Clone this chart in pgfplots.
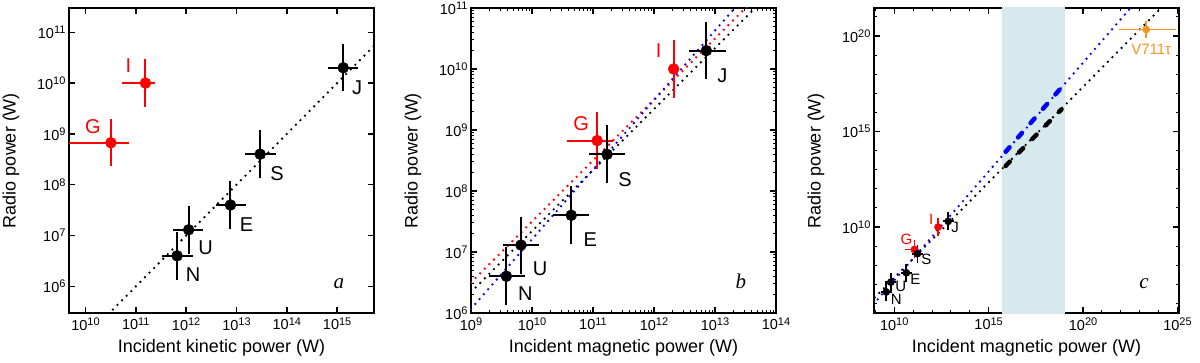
\documentclass[border=0pt]{standalone}
\usepackage{pgfplots}
\pgfplotsset{compat=1.18}
\usepackage{pgfplotstable}
\usepackage{fontspec}
\setmainfont{Liberation Sans}
\newfontfamily\timesf{Liberation Serif}

\definecolor{orng}{HTML}{F7931E}
\definecolor{band}{HTML}{D6E9EC}

% tick label 10^n set in the text font
\newcommand\ex[1]{{\fontsize{14.5}{16}\selectfont 10\raisebox{4.8pt}{\fontsize{11}{11}\selectfont #1}}}

% radio power vs incident kinetic / magnetic power
% columns: x, y, x error minus/plus, y error minus/plus (W)
\pgfplotstableread{
x       y      xm      xp      ym      yp
6.6e11  4e6    3.3e11  6.9e11  2.65e6  8e6
1.12e12 1.3e7  5.6e11  1.08e12 8.6e6   2.5e7
7.6e12  4e7    3.7e12  7.9e12  2.65e7  8e7
2.95e13 4e8    1.47e13 3.05e13 2.65e8  8e8
1.32e15 2e10   6.6e14  1.28e15 1.31e10 4e10
}\kinblack
\pgfplotstableread{
x       y      xm      xp      ym      yp
3.2e10  6.7e8  2.9e10  4.2e10  4.4e8   1.33e9
1.55e11 1e10   1.01e11 8.5e10  6.6e9   2e10
}\kinred
\pgfplotstableread{
x       y      xm      xp      ym      yp
3.8e9   4e6    1.8e9   4e9     2.65e6  8e6
6.6e9   1.3e7  3.3e9   6.4e9   8.6e6   2.5e7
4.4e10  4e7    2.2e10  4.3e10  2.65e7  8e7
1.7e11  4e8    8.5e10  1.7e11  2.65e8  8e8
7.2e12  2e10   3.5e12  7.8e12  1.31e10 4e10
}\magblack
\pgfplotstableread{
x       y      xm      xp      ym      yp
1.17e11 6.7e8  8e10    9.3e10  4.4e8   1.33e9
2.1e12  1e10   0       0       6.6e9   2e10
}\magred
\pgfplotstableread{
x       y      xm      xp      ym      yp
2.2e23  2.2e20 2.12e23 7.8e24  1.44e20 4.1e20
}\startab

\pgfplotsset{
  mypanel/.style={
    width=305pt, height=305pt, scale only axis,
    axis line style={line width=1.8pt},
    tick align=inside,
    major tick length=6pt, minor tick length=3pt,
    every major tick/.append style={black, line width=1.4pt},
    every minor tick/.append style={black, line width=1pt},
    xticklabel style={yshift=-1pt},
    label style={font=\fontsize{18}{20}\selectfont},
    ylabel style={at={(axis description cs:-0.19,0.5)}, anchor=center},
    xlabel style={at={(axis description cs:0.5,-0.115)}, anchor=center},
    ylabel={Radio power (W)},
  },
  pts/.style 2 args={only marks, mark=*, mark size=#1,
    error bars/x dir=both, error bars/y dir=both,
    error bars/x explicit, error bars/y explicit,
    error bars/error mark=none,
    error bars/error bar style={line width=#2, solid}},
  dotl/.style={line width=2.6pt, line cap=round, dash pattern=on 0pt off 6.5pt},
  tdash/.style={line width=4.5pt, line cap=round, dash pattern=on 6pt off 13pt},
}

\newcommand\plotpts[4]{% table, colour, mark size, error width
  \addplot[color=#2, mark options={fill=#2, draw=#2}, pts={#3}{#4}]
    table[x=x, y=y, x error minus=xm, x error plus=xp,
          y error minus=ym, y error plus=yp] {#1};
}

\begin{document}
\begin{tikzpicture}
\useasboundingbox (0,0) rectangle (1200pt,362pt);

% ---------- a ----------
\begin{loglogaxis}[mypanel, at={(69pt,49pt)}, anchor=south west,
  xmin=4.7e9, xmax=5.4e15, ymin=3e5, ymax=3e11,
  xminorticks=false, yminorticks=false,
  xtick={1e10,1e11,1e12,1e13,1e14,1e15},
  xticklabels={\ex{10},\ex{11},\ex{12},\ex{13},\ex{14},\ex{15}},
  ytick={1e6,1e7,1e8,1e9,1e10,1e11},
  yticklabels={\ex{6},\ex{7},\ex{8},\ex{9},\ex{10},\ex{11}},
  xlabel={Incident kinetic power (W)}]
\addplot[black, dotl] coordinates {(1e9,1e4) (1e17,1e12)};
\plotpts{\kinred}{red}{5.5pt}{2pt}
\plotpts{\kinblack}{black}{5.5pt}{2pt}
\begin{scope}[font=\fontsize{20}{22}\selectfont]
\node[red] at (axis cs:3.2e10,6.7e8) [xshift=-18pt, yshift=16pt] {G};
\node[red] at (axis cs:1.55e11,1e10) [xshift=-17pt, yshift=17pt] {I};
\node at (axis cs:6.6e11,4e6) [xshift=16pt, yshift=-19pt] {N};
\node at (axis cs:1.12e12,1.3e7) [xshift=17pt, yshift=-18pt] {U};
\node at (axis cs:7.6e12,4e7) [xshift=16pt, yshift=-20pt] {E};
\node at (axis cs:2.95e13,4e8) [xshift=17pt, yshift=-19pt] {S};
\node at (axis cs:1.32e15,2e10) [xshift=14pt, yshift=-20pt] {J};
\end{scope}
\node[anchor=base, font=\timesf\itshape\fontsize{21}{22}\selectfont]
  at (axis description cs:0.885,0.08) {a};
\end{loglogaxis}

% ---------- b ----------
\begin{loglogaxis}[mypanel, at={(471pt,49pt)}, anchor=south west,
  xmin=1e9, xmax=1e14, ymin=1e6, ymax=1e11,
  xtick={1e9,1e10,1e11,1e12,1e13,1e14},
  xticklabels={\ex{9},\ex{10},\ex{11},\ex{12},\ex{13},\ex{14}},
  ytick={1e6,1e7,1e8,1e9,1e10,1e11},
  yticklabels={\ex{6},\ex{7},\ex{8},\ex{9},\ex{10},\ex{11}},
  minor xtick={2e9,3e9,4e9,5e9,6e9,7e9,8e9,9e9,
    2e10,3e10,4e10,5e10,6e10,7e10,8e10,9e10,
    2e11,3e11,4e11,5e11,6e11,7e11,8e11,9e11,
    2e12,3e12,4e12,5e12,6e12,7e12,8e12,9e12,
    2e13,3e13,4e13,5e13,6e13,7e13,8e13,9e13},
  minor ytick={2e6,3e6,4e6,5e6,6e6,7e6,8e6,9e6,
    2e7,3e7,4e7,5e7,6e7,7e7,8e7,9e7,
    2e8,3e8,4e8,5e8,6e8,7e8,8e8,9e8,
    2e9,3e9,4e9,5e9,6e9,7e9,8e9,9e9,
    2e10,3e10,4e10,5e10,6e10,7e10,8e10,9e10},
  xlabel={Incident magnetic power (W)}]
\addplot[black, dotl] coordinates {(1e9,2.2e6) (1e14,2.2e11)};
\addplot[red, dotl] coordinates {(1e9,3.16e6) (1e14,3.16e11)};
\addplot[blue, dotl] coordinates {(1e9,1.17e6) (1e14,5.9e11)};
\plotpts{\magred}{red}{5.5pt}{2pt}
\plotpts{\magblack}{black}{5.5pt}{2pt}
\begin{scope}[font=\fontsize{20}{22}\selectfont]
\node[red] at (axis cs:1.17e11,6.7e8) [xshift=-16pt, yshift=17pt] {G};
\node[red] at (axis cs:2.1e12,1e10) [xshift=-15pt, yshift=18pt] {I};
\node at (axis cs:3.8e9,4e6) [xshift=19pt, yshift=-17pt] {N};
\node at (axis cs:6.6e9,1.3e7) [xshift=19pt, yshift=-24pt] {U};
\node at (axis cs:4.4e10,4e7) [xshift=19pt, yshift=-24pt] {E};
\node at (axis cs:1.7e11,4e8) [xshift=18pt, yshift=-25pt] {S};
\node at (axis cs:7.2e12,2e10) [xshift=16pt, yshift=-25pt] {J};
\end{scope}
\node[anchor=base, font=\timesf\itshape\fontsize{21}{22}\selectfont]
  at (axis description cs:0.885,0.08) {b};
\end{loglogaxis}

% ---------- c ----------
\begin{loglogaxis}[mypanel, at={(874pt,49pt)}, anchor=south west,
  xmin=8.5e8, xmax=1.2e25, ymin=3.16e5, ymax=2.95e21,
  xtick={1e10,1e15,1e20,1e25},
  xticklabels={\ex{10},\ex{15},\ex{20},\ex{25}},
  ytick={1e10,1e15,1e20},
  yticklabels={\ex{10},\ex{15},\ex{20}},
  minor xtick={1e9,1e11,1e12,1e13,1e14,1e16,1e17,1e18,1e19,
    1e21,1e22,1e23,1e24},
  minor ytick={1e6,1e7,1e8,1e9,1e11,1e12,1e13,1e14,1e16,1e17,1e18,1e19,1e21},
  xlabel={Incident magnetic power (W)}]
\addplot[fill=band, draw=none] coordinates {(5e15,1e22) (1.17e19,1e22)} \closedcycle;
\addplot[black, dotl] coordinates {(1e8,2.2e5) (1e26,2.2e23)};
\addplot[blue, dotl] coordinates {(1e8,8.5e4) (1e26,2.8e25)};
\addplot[black, tdash] coordinates {(7.9e15,1.58e13) (7.2e18,1.45e16)};
\addplot[blue, tdash] coordinates {(7.9e15,8.7e13) (7.2e18,2.05e17)};
\plotpts{\magred}{red}{3.6pt}{1.8pt}
\plotpts{\magblack}{black}{3.6pt}{1.8pt}
\plotpts{\startab}{orng}{3.6pt}{1.8pt}
\begin{scope}[font=\fontsize{15}{17}\selectfont]
\node[red] at (axis cs:1.17e11,6.7e8) [xshift=-8pt, yshift=10pt] {G};
\node[red] at (axis cs:2.1e12,1e10) [xshift=-7pt, yshift=8pt] {I};
\node at (axis cs:3.8e9,4e6) [xshift=10pt, yshift=-7pt] {N};
\node at (axis cs:6.6e9,1.3e7) [xshift=10pt, yshift=-4pt] {U};
\node at (axis cs:4.4e10,4e7) [xshift=9pt, yshift=-6pt] {E};
\node at (axis cs:1.7e11,4e8) [xshift=9pt, yshift=-6pt] {S};
\node at (axis cs:7.2e12,2e10) [xshift=7pt, yshift=-6pt] {J};
\node[orng] at (axis cs:2.2e23,2.2e20) [xshift=5pt, yshift=-20pt] {V711τ};
\end{scope}
\node[anchor=base, font=\timesf\itshape\fontsize{21}{22}\selectfont]
  at (axis description cs:0.885,0.08) {c};
\end{loglogaxis}
\end{tikzpicture}
\end{document}
